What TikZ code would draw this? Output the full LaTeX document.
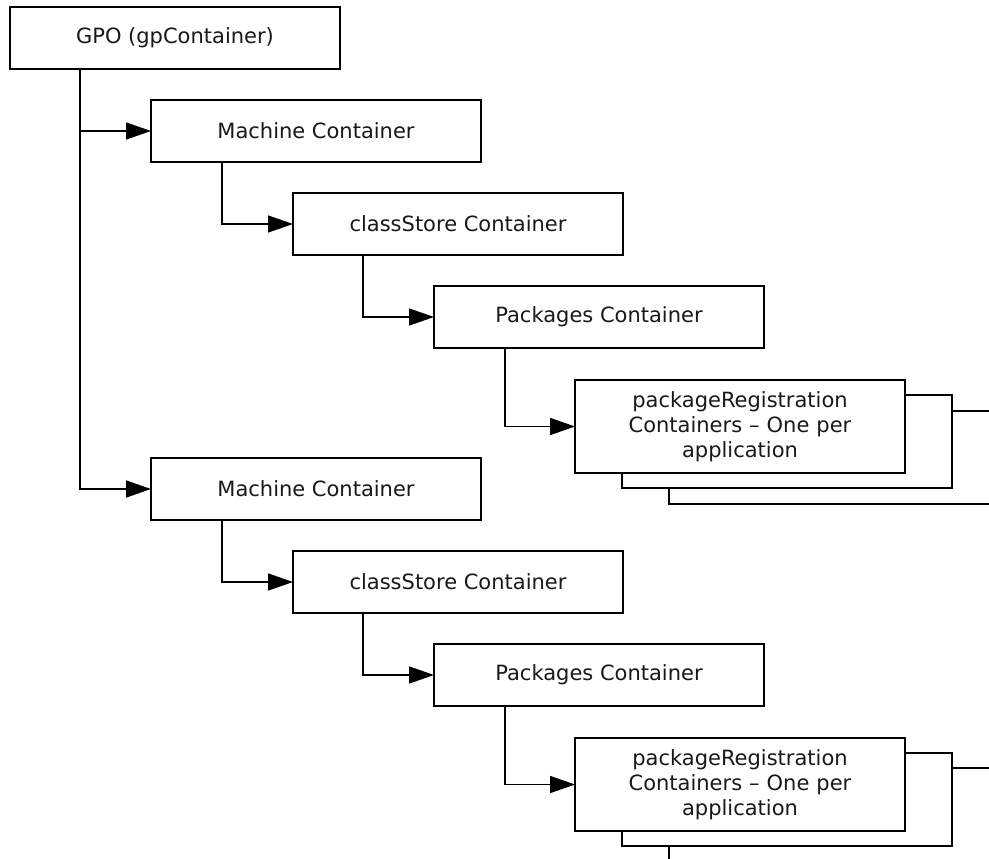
\documentclass[tikz,border=0pt]{standalone}
\usepackage{fontspec}
\setmainfont{DejaVu Sans}
\usetikzlibrary{arrows.meta}
\begin{document}
\begin{tikzpicture}[x=1pt,y=-1pt,
  box/.style={draw=black, line width=1.6pt, fill=white, anchor=north west,
    minimum width=330pt, minimum height=62pt, inner sep=0pt, outer sep=0pt,
    text=black!90, font=\fontsize{21}{25}\selectfont, align=center},
  regbox/.style={box, minimum height=93pt, text width=300pt},
  conn/.style={draw=black, line width=1.6pt, -{Triangle[length=25pt,width=17pt]}}]
\useasboundingbox (0,0) rectangle (989,859);
\clip (0,0) rectangle (989,859);

\node[box] (gpo) at (10,7) {GPO (gpContainer)};

% group 1
\node[box] (m1) at (151,100) {Machine Container};
\node[box] (c1) at (293,193) {classStore Container};
\node[box] (p1) at (434,286) {Packages Container};
\node[regbox] (r1c) at (669,411) {};
\node[regbox] (r1b) at (622,395) {};
\node[regbox] (r1) at (575,380) {packageRegistration\\Containers – One per\\application};

% group 2
\node[box] (m2) at (151,458) {Machine Container};
\node[box] (c2) at (293,551) {classStore Container};
\node[box] (p2) at (434,644) {Packages Container};
\node[regbox] (r2c) at (669,768) {};
\node[regbox] (r2b) at (622,753) {};
\node[regbox] (r2) at (575,738) {packageRegistration\\Containers – One per\\application};

% connectors
\draw[conn] ([xshift=70pt]gpo.south west) |- (m1.west);
\draw[conn] ([xshift=70pt]gpo.south west) |- (m2.west);
\draw[conn] ([xshift=71pt]m1.south west) |- (c1.west);
\draw[conn] ([xshift=70pt]c1.south west) |- (p1.west);
\draw[conn] ([xshift=71pt]p1.south west) |- (r1.west);
\draw[conn] ([xshift=71pt]m2.south west) |- (c2.west);
\draw[conn] ([xshift=70pt]c2.south west) |- (p2.west);
\draw[conn] ([xshift=71pt]p2.south west) |- (r2.west);
\end{tikzpicture}
\end{document}
